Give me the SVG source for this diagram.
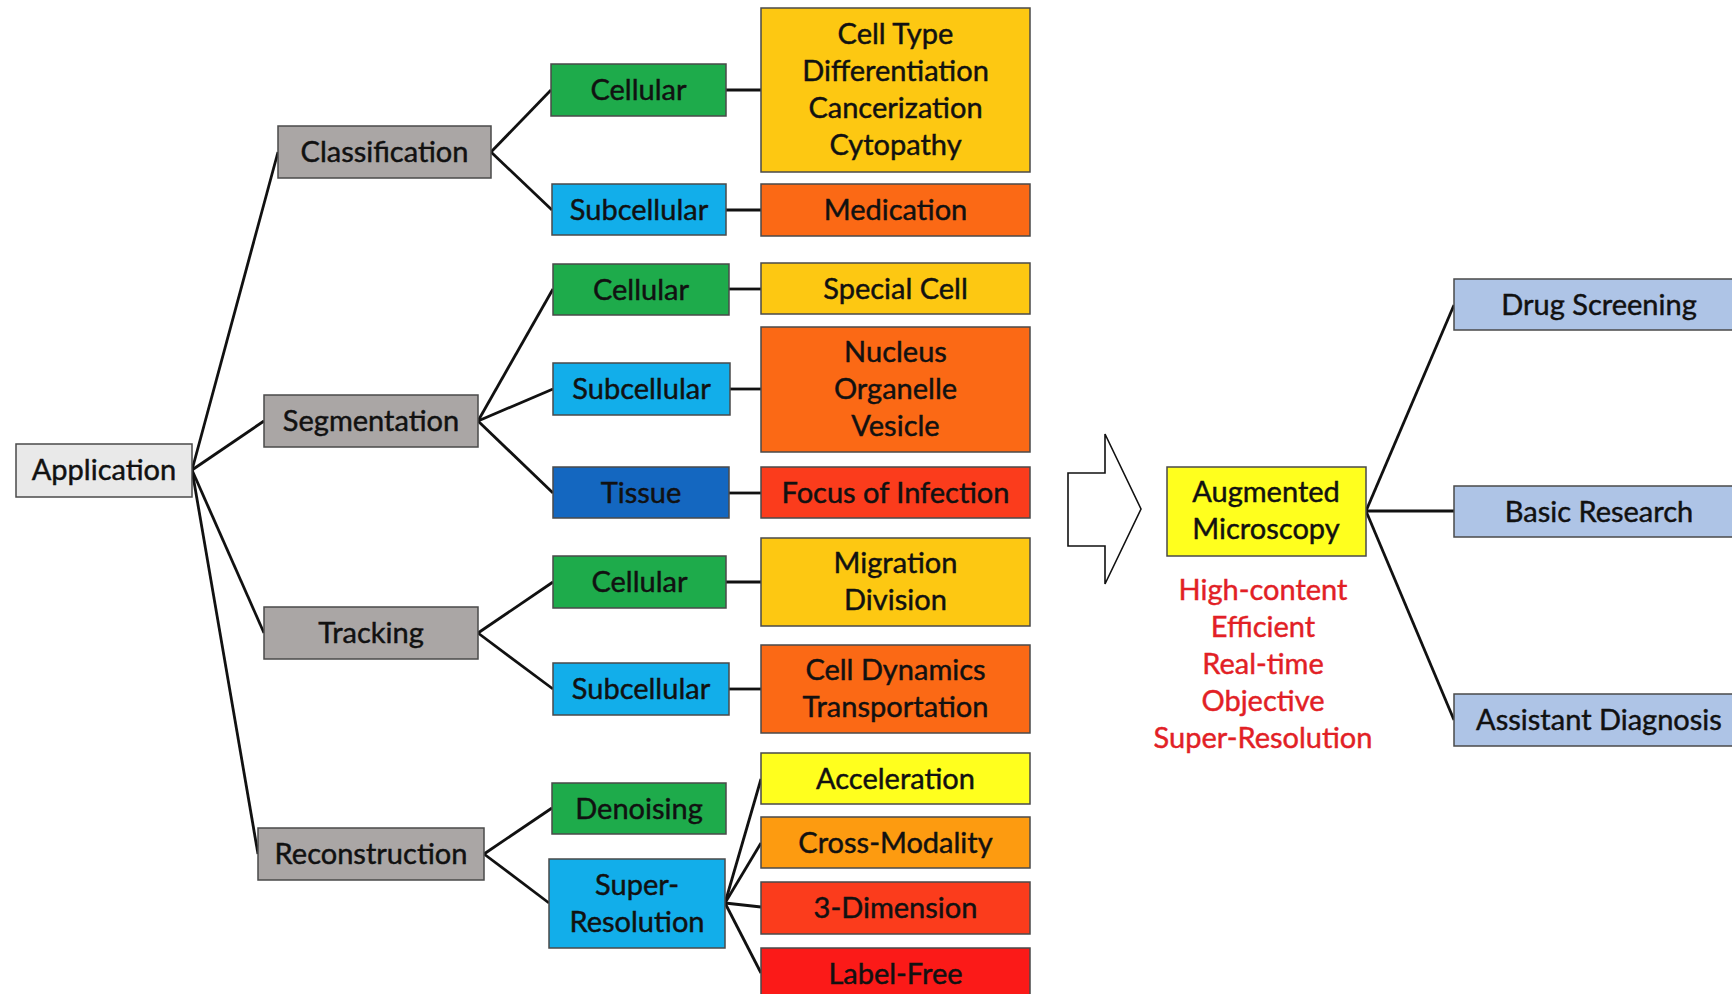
<svg xmlns="http://www.w3.org/2000/svg" width="1732" height="994" viewBox="0 0 1732 994">
<style>
text{font-family:Lato,"Liberation Sans",sans-serif;font-size:29px;fill:#111;stroke:#111;stroke-width:0.45;text-anchor:middle}
.b{stroke:#4a4a4a;stroke-width:1.5}
.app{fill:#e9e9e9}
.gray{fill:#aaa6a5}
.green{fill:#1eab4b}
.lblue{fill:#12aeea}
.dblue{fill:#1467c0}
.gold{fill:#fdc812}
.orange{fill:#fb6915}
.red{fill:#fb3c1c}
.yellow{fill:#ffff1e}
.amber{fill:#fd9b10}
.red2{fill:#fb1a18}
.steel{fill:#aec4e6}
.c line{stroke:#111;stroke-width:2.8}
text.note{fill:#e21f26;stroke:#e21f26}
</style>
<rect width="1732" height="994" fill="#fff"/>
<g class="c" id="connectors">
<line x1="192" y1="470" x2="278" y2="152"/>
<line x1="192" y1="470" x2="264" y2="421"/>
<line x1="192" y1="470" x2="264" y2="633"/>
<line x1="192" y1="470" x2="258" y2="854"/>
<line x1="491" y1="152" x2="551" y2="90"/>
<line x1="491" y1="152" x2="552" y2="210"/>
<line x1="726" y1="90" x2="761" y2="90"/>
<line x1="726" y1="210" x2="761" y2="210"/>
<line x1="478" y1="421" x2="553" y2="289"/>
<line x1="478" y1="421" x2="553" y2="389"/>
<line x1="478" y1="421" x2="553" y2="493"/>
<line x1="729" y1="289" x2="761" y2="289"/>
<line x1="730" y1="389" x2="761" y2="389"/>
<line x1="729" y1="493" x2="761" y2="493"/>
<line x1="478" y1="633" x2="553" y2="582"/>
<line x1="478" y1="633" x2="553" y2="689"/>
<line x1="726" y1="582" x2="761" y2="582"/>
<line x1="729" y1="689" x2="761" y2="689"/>
<line x1="484" y1="854" x2="552" y2="808"/>
<line x1="484" y1="854" x2="549" y2="903"/>
<line x1="725" y1="903" x2="761" y2="779"/>
<line x1="725" y1="903" x2="761" y2="843"/>
<line x1="725" y1="903" x2="761" y2="907"/>
<line x1="725" y1="903" x2="761" y2="973"/>
<line x1="1366" y1="511" x2="1454" y2="305"/>
<line x1="1366" y1="511" x2="1454" y2="511"/>
<line x1="1366" y1="511" x2="1454" y2="720"/>
</g>
<g id="application"><rect class="b app" x="16" y="444" width="176" height="53"/><text x="104" y="480">Application</text></g>
<g id="classification"><rect class="b gray" x="278" y="126" width="213" height="52"/><text x="384.5" y="162">Classification</text></g>
<g id="segmentation"><rect class="b gray" x="264" y="395" width="214" height="52"/><text x="371" y="431">Segmentation</text></g>
<g id="tracking"><rect class="b gray" x="264" y="607" width="214" height="52"/><text x="371" y="643">Tracking</text></g>
<g id="reconstruction"><rect class="b gray" x="258" y="828" width="226" height="52"/><text x="371" y="864">Reconstruction</text></g>

<g id="cls-cellular"><rect class="b green" x="551" y="64" width="175" height="52"/><text x="638.5" y="100">Cellular</text></g>
<g id="cls-subcellular"><rect class="b lblue" x="552" y="184" width="174" height="51"/><text x="639" y="219.5">Subcellular</text></g>
<g id="seg-cellular"><rect class="b green" x="553" y="264" width="176" height="51"/><text x="641" y="299.5">Cellular</text></g>
<g id="seg-subcellular"><rect class="b lblue" x="553" y="363" width="177" height="52"/><text x="641.5" y="399">Subcellular</text></g>
<g id="seg-tissue"><rect class="b dblue" x="553" y="467" width="176" height="51"/><text x="641" y="502.5">Tissue</text></g>
<g id="trk-cellular"><rect class="b green" x="553" y="556" width="173" height="52"/><text x="639.5" y="592">Cellular</text></g>
<g id="trk-subcellular"><rect class="b lblue" x="553" y="663" width="176" height="52"/><text x="641" y="699">Subcellular</text></g>
<g id="rec-denoising"><rect class="b green" x="552" y="783" width="174" height="51"/><text x="639" y="818.5">Denoising</text></g>
<g id="rec-superres"><rect class="b lblue" x="549" y="859" width="176" height="89"/><text x="637" y="895">Super-</text><text x="637" y="932">Resolution</text></g>

<g id="celltype"><rect class="b gold" x="761" y="8" width="269" height="164"/><text x="895.5" y="44">Cell Type</text><text x="895.5" y="81">Differentiation</text><text x="895.5" y="118">Cancerization</text><text x="895.5" y="155">Cytopathy</text></g>
<g id="medication"><rect class="b orange" x="761" y="184" width="269" height="52"/><text x="895.5" y="220">Medication</text></g>
<g id="specialcell"><rect class="b gold" x="761" y="263" width="269" height="51"/><text x="895.5" y="298.5">Special Cell</text></g>
<g id="nucleus"><rect class="b orange" x="761" y="327" width="269" height="125"/><text x="895.5" y="362">Nucleus</text><text x="895.5" y="399">Organelle</text><text x="895.5" y="436">Vesicle</text></g>
<g id="focus"><rect class="b red" x="761" y="467" width="269" height="51"/><text x="895.5" y="502.5">Focus of Infection</text></g>
<g id="migration"><rect class="b gold" x="761" y="538" width="269" height="88"/><text x="895.5" y="573">Migration</text><text x="895.5" y="610">Division</text></g>
<g id="dynamics"><rect class="b orange" x="761" y="645" width="269" height="88"/><text x="895.5" y="680">Cell Dynamics</text><text x="895.5" y="717">Transportation</text></g>
<g id="acceleration"><rect class="b yellow" x="761" y="753" width="269" height="51"/><text x="895.5" y="788.5">Acceleration</text></g>
<g id="crossmodality"><rect class="b amber" x="761" y="817" width="269" height="51"/><text x="895.5" y="852.5">Cross-Modality</text></g>
<g id="dimension"><rect class="b red" x="761" y="882" width="269" height="52"/><text x="895.5" y="918">3-Dimension</text></g>
<g id="labelfree"><rect class="b red2" x="761" y="948" width="269" height="60"/><text x="895.5" y="984">Label-Free</text></g>

<g id="arrow"><polygon points="1068,473 1105,473 1105,434 1141,509 1105,584 1105,546 1068,546" fill="#fff" stroke="#111" stroke-width="1.6"/></g>
<g id="augmented"><rect class="b yellow" x="1167" y="467" width="199" height="89"/><text x="1266" y="502">Augmented</text><text x="1266" y="539">Microscopy</text></g>
<g id="properties"><text class="note" x="1263" y="600">High-content</text><text class="note" x="1263" y="637">Efficient</text><text class="note" x="1263" y="674">Real-time</text><text class="note" x="1263" y="711">Objective</text><text class="note" x="1263" y="748">Super-Resolution</text></g>
<g id="drug"><rect class="b steel" x="1454" y="279" width="300" height="51"/><text x="1599" y="314.5">Drug Screening</text></g>
<g id="basic"><rect class="b steel" x="1454" y="486" width="300" height="51"/><text x="1599" y="521.5">Basic Research</text></g>
<g id="assistant"><rect class="b steel" x="1454" y="694" width="300" height="52"/><text x="1599" y="730">Assistant Diagnosis</text></g>
</svg>
